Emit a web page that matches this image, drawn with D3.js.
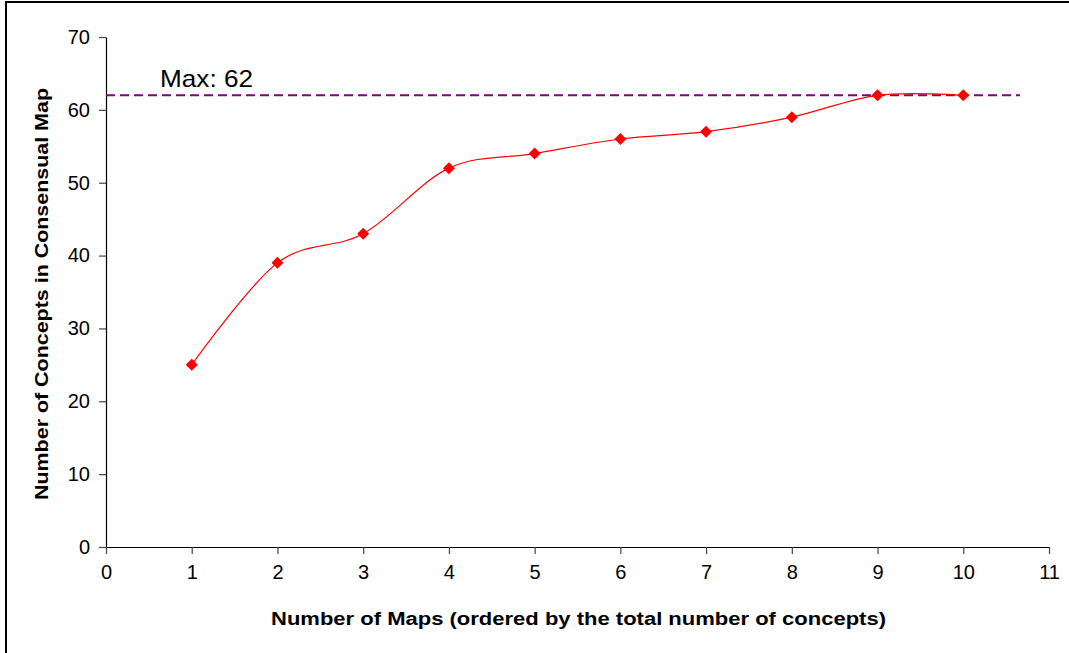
<!DOCTYPE html>
<html><head><meta charset="utf-8">
<script src="https://cdn.jsdelivr.net/npm/d3@7"></script>
<style>body{margin:0;background:#fff}svg{display:block}text{font-family:"Liberation Sans",Arial,sans-serif}</style>
</head><body><svg id="c" width="1069" height="653"></svg>
<script>
const maps = [1,2,3,4,5,6,7,8,9,10];
const concepts = [25,39,43,52,54,56,57,59,62,62];
const xTicks = [0,1,2,3,4,5,6,7,8,9,10,11];
const yTicks = [0,10,20,30,40,50,60,70];
const maxValue = 62;
const maxLabel = "Max: 62";
const xTitle = "Number of Maps (ordered by the total number of concepts)";
const yTitle = "Number of Concepts in Consensual Map";

const svg = d3.select("#c");
svg.append("rect").attr("x",6).attr("y",2).attr("width",1100).attr("height",700)
  .attr("fill","none").attr("stroke","#000").attr("stroke-width",2);

const x = d3.scaleLinear().domain([0,11]).range([106,1049]);
const y = d3.scaleLinear().domain([0,70]).range([547,37]);

const xa = svg.append("g").attr("transform","translate(0,547)")
  .call(d3.axisBottom(x).tickValues(xTicks).tickSize(7).tickSizeOuter(0).tickPadding(11));
const ya = svg.append("g").attr("transform","translate(106,0)")
  .call(d3.axisLeft(y).tickValues(yTicks).tickSize(7).tickSizeOuter(0).tickPadding(9));
[xa,ya].forEach(a=>{
  a.attr("font-size",null).attr("font-family",null);
  a.select(".domain").attr("stroke","#000").attr("stroke-width",1.2);
  a.selectAll(".tick line").attr("stroke","#444").attr("stroke-width",1.2);
  a.selectAll(".tick text").style("font-size","20px").attr("fill","#000")
   .style("font-family","'Liberation Sans',Arial,sans-serif");
});

svg.append("line").attr("x1",x(0)).attr("x2",1020).attr("y1",y(maxValue)).attr("y2",y(maxValue))
  .attr("stroke","#800080").attr("stroke-width",2).attr("stroke-dasharray","9,5");
svg.append("text").attr("x",160).attr("y",87).style("font-size","24px")
  .attr("textLength",93).attr("lengthAdjust","spacingAndGlyphs").text(maxLabel);

const line = d3.line().x((d,i)=>x(maps[i])).y(d=>y(d)).curve(d3.curveCardinal.tension(0));
svg.append("path").datum(concepts).attr("d",line).attr("fill","none").attr("stroke","#ff0000").attr("stroke-width",1.2);
svg.selectAll(".pt").data(concepts).enter().append("path")
  .attr("transform",(d,i)=>`translate(${x(maps[i])},${y(d)})`)
  .attr("d","M0,-6L6,0L0,6L-6,0Z").attr("fill","#ff0000");

svg.append("text").attr("x",271).attr("y",625)
  .style("font-size","18px").attr("font-weight","bold")
  .attr("textLength",615).attr("lengthAdjust","spacingAndGlyphs").text(xTitle);
svg.append("text").attr("transform","translate(48,500) rotate(-90)")
  .style("font-size","18px").attr("font-weight","bold")
  .attr("textLength",412).attr("lengthAdjust","spacingAndGlyphs").text(yTitle);
</script></body></html>
